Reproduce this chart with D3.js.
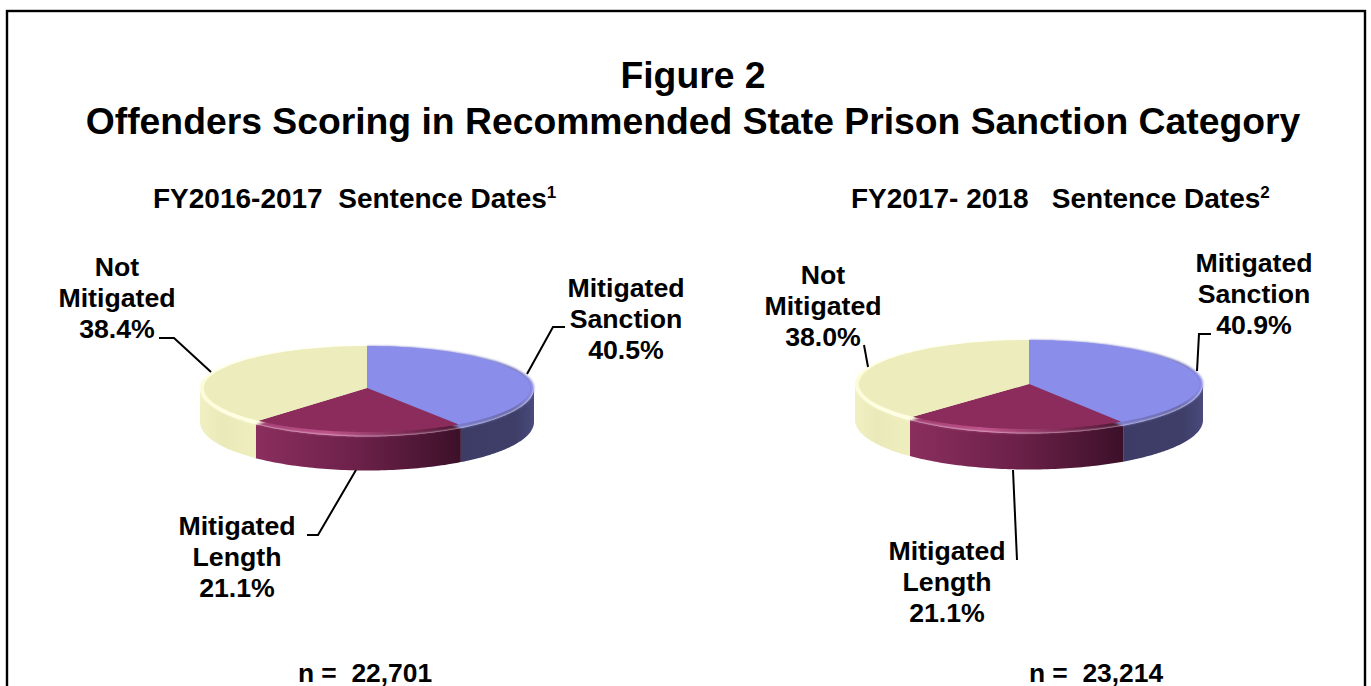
<!DOCTYPE html>
<html><head><meta charset="utf-8">
<script src="https://cdn.jsdelivr.net/npm/d3@7"></script>
<style>html,body{margin:0;padding:0;background:#fff;overflow:hidden}
text{font-family:"Liberation Sans",Arial,sans-serif;font-weight:bold;fill:#000;white-space:pre}</style>
</head><body><svg id="c" width="1371" height="686"></svg>
<script>
const categories=["Mitigated Sanction","Mitigated Length","Not Mitigated"];
const valuesA=[40.5,21.1,38.4];
const valuesB=[40.9,21.1,38.0];
const titleLines=["Figure 2","Offenders Scoring in Recommended State Prison Sanction Category"];
const faceColors=["#8b8deb","#8c2c5c","#ececbc"];
const W=1371,H=686;
const svg=d3.select("#c");
const defs=svg.append("defs");
defs.append("filter").attr("id","soft").attr("x","-5%").attr("y","-5%").attr("width","110%").attr("height","110%")
  .append("feGaussianBlur").attr("stdDeviation",0.9);
svg.append("rect").attr("x",7).attr("y",11).attr("width",1358).attr("height",H+20).attr("fill","#fff").attr("stroke","#000").attr("stroke-width",2.4);
function grad(id,x1,x2,stops){
  const g=defs.append("linearGradient").attr("id",id).attr("gradientUnits","userSpaceOnUse")
    .attr("x1",x1).attr("x2",x2).attr("y1",0).attr("y2",0);
  stops.forEach(s=>g.append("stop").attr("offset",s[0]).attr("stop-color",s[1]));
}
function drawPie(id,values,cx,cy,rx,ryBack,ryFaceFront,ryFront,depth){
  const pie=d3.pie().sort(null).value(d=>d)(values);
  const g=svg.append("g");
  const pt=(a,k,ryF)=>{const c=Math.cos(a);return [cx+k*rx*Math.sin(a),cy-(c>0?ryBack:ryF)*c];};
  const line=d3.line();
  const samples=(a0,a1,k,ryF,dy=0)=>d3.range(0,61).map(i=>{const p=pt(a0+(a1-a0)*i/60,k,ryF);return [p[0],p[1]+dy];});
  const L=cx-rx,R=cx+rx;
  const xa=[pt(pie[0].endAngle,1,ryFront)[0],pt(pie[1].endAngle,1,ryFront)[0]];
  grad(id+"s0",xa[0],R,[[0,"#3c3c66"],[.75,"#3e3e68"],[1,"#4a4a7c"]]);
  grad(id+"s1",xa[1],xa[0],[[0,"#8a2e5e"],[.5,"#6c2149"],[1,"#3c1029"]]);
  grad(id+"s2",L,xa[1],[[0,"#f0f0c4"],[.4,"#e9e9b9"],[1,"#eeeebe"]]);
  grad(id+"l0",xa[0],R,[[0,"#7a7bcb"],[.7,"#6a6baa"],[1,"#8b8deb"]]);
  grad(id+"l1",xa[1],xa[0],[[0,"#a03c72"],[.35,"#bd5389"],[.75,"#7a2a54"],[1,"#4a1733"]]);
  grad(id+"l2",L,xa[1],[[0,"#fbfbd4"],[.5,"#ffffe0"],[1,"#fffee0"]]);
  pie.forEach((d,i)=>{
    const a0=Math.max(d.startAngle,Math.PI/2), a1=Math.min(d.endAngle,3*Math.PI/2);
    if(a1<=a0) return;
    const up=samples(a0,a1,1,ryFront), dn=samples(a0,a1,1,ryFront,depth).reverse();
    g.append("path").attr("d",line(up.concat(dn))+"Z").attr("fill",`url(#${id}s${i})`);
  });
  const lip=g.append("g").attr("filter","url(#soft)");
  pie.forEach((d,i)=>{
    const outer=samples(d.startAngle,d.endAngle,1,ryFront);
    lip.append("path").attr("d",line([[cx,cy]].concat(outer))+"Z").attr("fill",`url(#${id}l${i})`);
  });
  pie.forEach((d,i)=>{
    const inner=samples(d.startAngle,d.endAngle,(rx-4)/rx,ryFaceFront);
    g.append("path").attr("d",line([[cx,cy]].concat(inner))+"Z").attr("fill",faceColors[i]);
  });
}
drawPie("a",valuesA,367,388,167,42,44,48.5,34);
drawPie("b",valuesB,1029,384,174,44,45,49.5,36);

function label(lines,x,y,size,lh){
  const t=svg.append("text").attr("text-anchor","middle").attr("font-size",size);
  lines.forEach((s,i)=>t.append("tspan").attr("x",x).attr("y",y+i*lh).text(s));
}
label(titleLines,693,88,37.3,46);
function sub(before,sup,x,y){
  const t=svg.append("text").attr("x",x).attr("y",y).attr("font-size",28);
  t.append("tspan").text(before);
  t.append("tspan").attr("font-size",17).attr("dy",-10).text(sup);
}
sub("FY2016-2017  Sentence Dates","1",153,208);
sub("FY2017- 2018   Sentence Dates","2",851,208);
const fmt=v=>v.toFixed(1)+"%";
const fs=26.7, lh=31;
label(["Not","Mitigated",fmt(valuesA[2])],117,276,fs,lh);
label(["Mitigated","Sanction",fmt(valuesA[0])],626,297,fs,lh);
label(["Mitigated","Length",fmt(valuesA[1])],237,535,fs,lh);
label(["Not","Mitigated",fmt(valuesB[2])],823,284,fs,lh);
label(["Mitigated","Sanction",fmt(valuesB[0])],1254,272,fs,lh);
label(["Mitigated","Length",fmt(valuesB[1])],947,560,fs,lh);
label(["n =  22,701"],365,682,26.4,0);
label(["n =  23,214"],1096,682,26.4,0);
const leaders=[
 [[159,338],[174,338],[211,372]],
 [[565,327],[553,327],[527,374]],
 [[307,535],[318,535],[356,470]],
 [[864,345],[868,367]],
 [[1211,334],[1199,334],[1197,371]],
 [[1017,560],[1013,470]]
];
leaders.forEach(p=>svg.append("path").attr("d",d3.line()(p)).attr("fill","none").attr("stroke","#000").attr("stroke-width",2));
</script></body></html>
